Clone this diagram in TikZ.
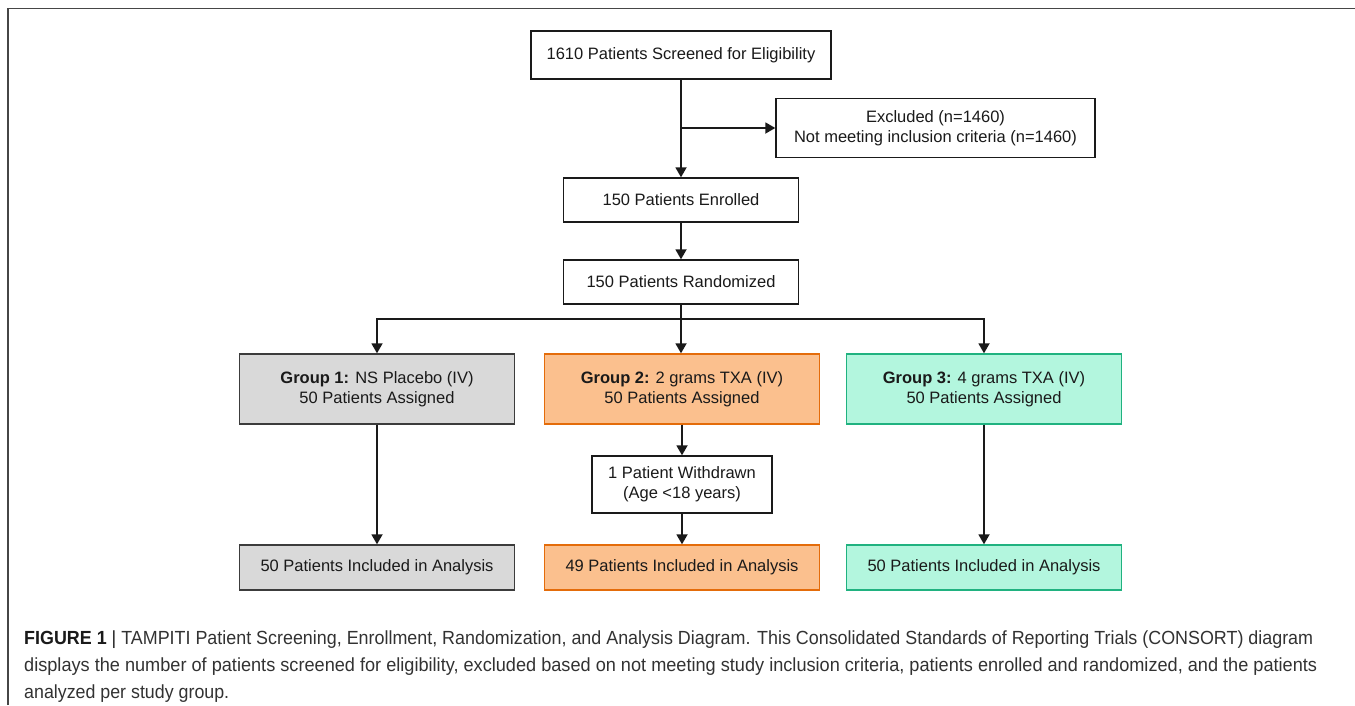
\documentclass[tikz,border=0pt]{standalone}
\usepackage{fontspec}
\setmainfont{Liberation Sans}
\usetikzlibrary{arrows.meta}
\definecolor{grayfill}{RGB}{217,217,217}
\definecolor{grayline}{RGB}{60,60,60}
\definecolor{orfill}{RGB}{251,192,142}
\definecolor{orline}{RGB}{228,108,10}
\definecolor{grfill}{RGB}{179,246,222}
\definecolor{grline}{RGB}{32,178,128}
\definecolor{txt}{RGB}{26,26,26}
\definecolor{captxt}{RGB}{50,50,50}
\definecolor{framecol}{RGB}{70,70,70}
\begin{document}
\begin{tikzpicture}[x=1pt,y=-1pt,
  box/.style={draw=txt, line width=1.4pt, fill=white, inner sep=0pt, align=center,
    text=txt, font=\fontsize{16.5}{20}\selectfont},
  wide/.style={minimum width=275pt},
  grp/.style={minimum height=70pt},
  ana/.style={minimum height=45pt},
  gbox/.style={fill=grayfill, draw=grayline},
  obox/.style={fill=orfill, draw=orline},
  tbox/.style={fill=grfill, draw=grline},
  arr/.style={-{Triangle[length=10pt,width=11pt]}, line width=1.8pt, draw=txt},
  ln/.style={line width=1.8pt, draw=txt},
  captionline/.style={anchor=base west, inner sep=0pt, text=captxt, font=\fontsize{19}{23}\selectfont}]
\useasboundingbox (0,0) rectangle (1355,705);
\draw[framecol, line width=1.6pt] (8,705) -- (8,8.5) -- (1355,8.5);

\node[box, minimum width=300pt, minimum height=48pt] (scr) at (681,55) {1610 Patients Screened for Eligibility};
\node[box, minimum width=319pt, minimum height=59pt] (exc) at (935.5,128) {Excluded (n=1460)\\Not meeting inclusion criteria (n=1460)};
\node[box, minimum width=235pt, minimum height=44pt] (enr) at (681,200) {150 Patients Enrolled};
\node[box, minimum width=235pt, minimum height=44pt] (ran) at (681,282) {150 Patients Randomized};
\node[box, wide, grp, gbox] (g1) at (377,389) {\textbf{Group 1:} NS Placebo (IV)\\50 Patients Assigned};
\node[box, wide, grp, obox] (g2) at (682,389) {\textbf{Group 2:} 2 grams TXA (IV)\\50 Patients Assigned};
\node[box, wide, grp, tbox] (g3) at (984,389) {\textbf{Group 3:} 4 grams TXA (IV)\\50 Patients Assigned};
\node[box, minimum width=180pt, minimum height=57pt] (wd) at (682,484.5) {1 Patient Withdrawn\\(Age {<}18 years)};
\node[box, wide, ana, gbox] (a1) at (377,567.5) {50 Patients Included in Analysis};
\node[box, wide, ana, obox] (a2) at (682,567.5) {49 Patients Included in Analysis};
\node[box, wide, ana, tbox] (a3) at (984,567.5) {50 Patients Included in Analysis};

\coordinate (exj) at (scr.south |- exc.west);
\draw[arr] (scr.south) -- (scr.south |- enr.north);
\draw[arr] (exj) -- (exc.west);
\draw[arr] (enr.south) -- (enr.south |- ran.north);
\draw[ln] (ran.south) -- (ran.south |- 0,319) coordinate (brm);
\draw[arr] (brm) -| (g1.north);
\draw[arr] (brm) -| (g3.north);
\draw[arr] (brm) -- (brm |- g2.north);
\draw[arr] (g1.south) -- (a1.north);
\draw[arr] (g3.south) -- (a3.north);
\draw[arr] (g2.south) -- (wd.north);
\draw[arr] (wd.south) -- (a2.north);

\node[captionline] (c1) at (24,644) {\resizebox{1289pt}{\height}{\textbf{\color{txt}FIGURE 1} {\color{txt}|} TAMPITI Patient Screening, Enrollment, Randomization, and Analysis Diagram. This Consolidated Standards of Reporting Trials (CONSORT) diagram}};
\node[captionline] (c2) at (24,671) {\resizebox{1293pt}{\height}{displays the number of patients screened for eligibility, excluded based on not meeting study inclusion criteria, patients enrolled and randomized, and the patients}};
\node[captionline] (c3) at (24,698) {\resizebox{205pt}{\height}{analyzed per study group.}};
\end{tikzpicture}
\end{document}
